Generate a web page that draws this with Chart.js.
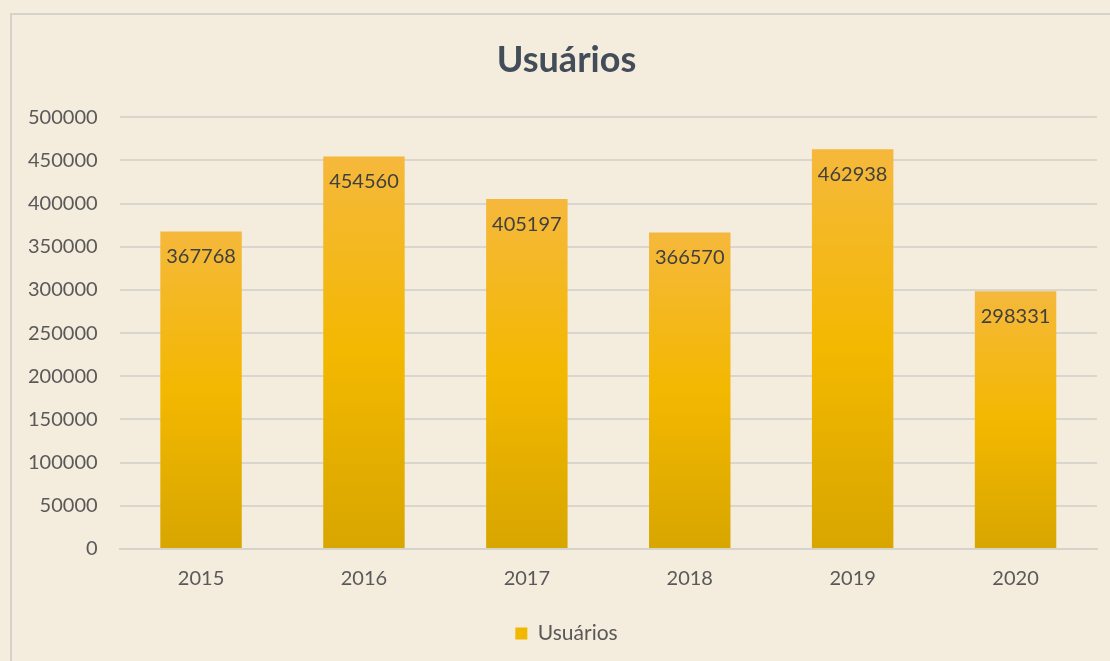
<!DOCTYPE html>
<html>
<head>
<meta charset="utf-8">
<script src="https://cdn.jsdelivr.net/npm/chart.js@4.4.0/dist/chart.umd.min.js"></script>
<style>
    html, body { margin: 0; padding: 0; background: #f4ecdd; overflow: hidden; }
    #wrap { position: relative; width: 1170px; height: 661px; overflow: hidden; }
    #frame {
        position: absolute; left: 10px; top: 13px; width: 1120px; height: 680px;
        border: 2px solid #d5d2ca; box-sizing: border-box;
    }
    canvas { position: absolute; left: 0; top: 0; }
</style>
</head>
<body>
<div id="wrap">
    <div id="frame"></div>
    <!-- the original chart object runs past the right edge of the window -->
    <canvas id="chart" width="1170" height="661"></canvas>
</div>
<script>
const years = ['2015', '2016', '2017', '2018', '2019', '2020'];
const usuarios = [367768, 454560, 405197, 366570, 462938, 298331];
const yTicks = [0, 50000, 100000, 150000, 200000, 250000, 300000, 350000, 400000, 450000, 500000];

const fontFamily = 'Lato, "Open Sans", sans-serif';

// gradient per bar, lighter at the top, darker at the base
function barGradient(context) {
    const chart = context.chart;
    const { ctx, chartArea, scales } = chart;
    if (!chartArea || context.type !== 'data') return '#f2b800';
    const top = scales.y.getPixelForValue(context.raw);
    const base = scales.y.getPixelForValue(0);
    const g = ctx.createLinearGradient(0, top, 0, base);
    g.addColorStop(0, '#f5b83c');
    g.addColorStop(0.5, '#f3b800');
    g.addColorStop(1, '#d8a600');
    return g;
}

// value labels just inside the top of each bar
const valueLabels = {
    id: 'valueLabels',
    afterDatasetsDraw(chart) {
        const { ctx } = chart;
        const meta = chart.getDatasetMeta(0);
        ctx.save();
        ctx.font = '20px ' + fontFamily;
        ctx.fillStyle = '#404040';
        ctx.textAlign = 'center';
        ctx.textBaseline = 'middle';
        meta.data.forEach((bar, i) => {
            ctx.fillText(String(usuarios[i]), bar.x, bar.y + 25);
        });
        ctx.restore();
    }
};

const ctx = document.getElementById('chart').getContext('2d');
new Chart(ctx, {
    type: 'bar',
    data: {
        labels: years,
        datasets: [{
            label: 'Usuários',
            data: usuarios,
            backgroundColor: barGradient,
            borderWidth: 0,
            categoryPercentage: 1.0,
            barPercentage: 0.5
        }]
    },
    options: {
        responsive: false,
        animation: false,
        layout: { padding: { left: 6, right: 43, top: 39, bottom: 7 } },
        plugins: {
            title: {
                display: true,
                text: 'Usuários',
                color: '#434d5a',
                font: { family: fontFamily, size: 36, weight: 'bold' },
                padding: { top: 0, bottom: 35 }
            },
            legend: {
                position: 'bottom',
                labels: {
                    color: '#595959',
                    font: { family: fontFamily, size: 21 },
                    boxWidth: 12,
                    boxHeight: 12,
                    padding: 14,
                    generateLabels(chart) {
                        return [{
                            text: 'Usuários',
                            fillStyle: '#f2b800',
                            strokeStyle: '#f2b800',
                            lineWidth: 0,
                            fontColor: '#595959',
                            datasetIndex: 0
                        }];
                    }
                }
            },
            tooltip: { enabled: false }
        },
        scales: {
            x: {
                grid: { display: false, drawTicks: false },
                border: { display: true, color: '#d6d3cb', width: 2 },
                ticks: {
                    color: '#595959',
                    font: { family: fontFamily, size: 20 },
                    padding: 18
                }
            },
            y: {
                min: 0,
                max: 500000,
                afterBuildTicks(axis) {
                    axis.ticks = yTicks.map(v => ({ value: v }));
                },
                grid: { color: '#d9d6ce', lineWidth: 2, drawTicks: false },
                border: { display: false },
                ticks: {
                    color: '#595959',
                    font: { family: fontFamily, size: 20 },
                    padding: 22,
                    callback: v => String(v)
                }
            },
            // empty spacer on the right so title and legend sit off-centre like the original
            spacer: {
                position: 'right',
                grid: { display: false, drawTicks: false },
                border: { display: false },
                ticks: { display: false },
                afterFit(axis) {
                    axis.width = 30;
                }
            }
        }
    },
    plugins: [valueLabels]
});
</script>
</body>
</html>
